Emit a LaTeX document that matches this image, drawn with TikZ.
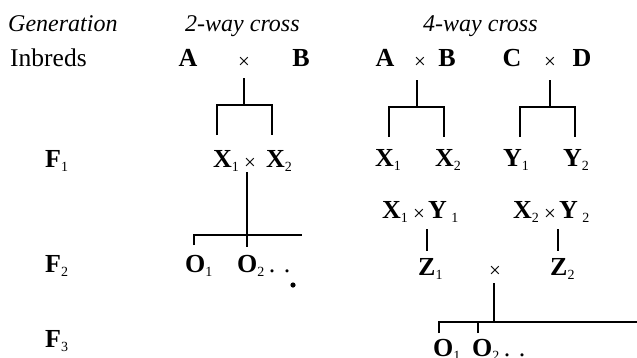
\documentclass[tikz,border=0pt]{standalone}
\usepackage{fontspec}
\setmainfont{Liberation Serif}
\newcommand{\mysub}[1]{\raisebox{-4pt}{\fontsize{14}{14}\selectfont\mdseries #1}}
\begin{document}
\begin{tikzpicture}[x=1pt,y=-1pt,
  lbl/.style={inner sep=0,font=\fontsize{25.5}{28}\selectfont},
  ital/.style={inner sep=0,anchor=base west,font=\fontsize{24}{28}\selectfont\itshape},
  bl/.style={inner sep=0,font=\fontsize{26}{28}\selectfont\bfseries},
  tm/.style={inner sep=0,anchor=base,font=\fontsize{21}{24}\selectfont},
  ln/.style={line width=1.2pt}]
\useasboundingbox (0,0) rectangle (637,357);
% headings
\node[ital] (gen) at (8,31) {Generation};
\node[ital] (two) at (185,31) {2-way cross};
\node[ital] (four) at (423,31) {4-way cross};
% generation labels
\node[lbl,anchor=base west] (inb) at (10,66) {Inbreds};
\node[bl,anchor=base west] (f1) at (45,167) {F\mysub{1}};
\node[bl,anchor=base west] (f2) at (45,272) {F\mysub{2}};
\node[bl,anchor=base west] (f3) at (45,347) {F\mysub{3}};
% 2-way cross
\node[bl,anchor=base] (a1) at (188,66) {A};
\node[tm] (t1) at (244,68) {×};
\node[bl,anchor=base] (b1) at (301,66) {B};
\node[bl,anchor=base west] (x1) at (213,167) {X\mysub{1}};
\node[tm] (t4) at (250,169) {×};
\node[bl,anchor=base west] (x2) at (266,167) {X\mysub{2}};
\node[bl,anchor=base west] (o1) at (185,272) {O\mysub{1}};
\node[bl,anchor=base west] (o2) at (237,272) {O\mysub{2}\,\mdseries. .};
\fill (293,285) circle (2.6);
% 4-way cross
\node[bl,anchor=base] (a2) at (385,66) {A};
\node[tm] (t2) at (420,68) {×};
\node[bl,anchor=base] (b2) at (447,66) {B};
\node[bl,anchor=base] (c2) at (512,66) {C};
\node[tm] (t3) at (550,68) {×};
\node[bl,anchor=base] (d2) at (582,66) {D};
\node[bl,anchor=base west] (x3) at (375,166) {X\mysub{1}};
\node[bl,anchor=base west] (x4) at (435,166) {X\mysub{2}};
\node[bl,anchor=base west] (y1) at (503,166) {Y\mysub{1}};
\node[bl,anchor=base west] (y2) at (563,166) {Y\mysub{2}};
\node[bl,anchor=base west] (xa) at (382,218) {X\mysub{1}};
\node[tm] (t6) at (419,220) {×};
\node[bl,anchor=base west] (ya) at (428,218) {Y\,\mysub{1}};
\node[bl,anchor=base west] (xb) at (513,218) {X\mysub{2}};
\node[tm] (t7) at (550,220) {×};
\node[bl,anchor=base west] (yb) at (559,218) {Y\,\mysub{2}};
\node[bl,anchor=base west] (z1) at (418,275) {Z\mysub{1}};
\node[tm] (t5) at (495,277) {×};
\node[bl,anchor=base west] (z2) at (550,275) {Z\mysub{2}};
\node[bl,anchor=base west] (o3) at (433,356) {O\mysub{1}};
\node[bl,anchor=base west] (o4) at (472,356) {O\mysub{2}\,\mdseries. .};
% connector coordinates
\coordinate (s1) at (244,78);  \coordinate (j1) at (244,105);
\coordinate (l1) at (217,135); \coordinate (r1) at (272,135);
\coordinate (s2) at (247,172); \coordinate (j2) at (247,247);
\coordinate (h2l) at (194,245); \coordinate (h2r) at (302,235);
\coordinate (s3) at (417,80);  \coordinate (j3) at (417,107);
\coordinate (l3) at (389,137); \coordinate (r3) at (444,137);
\coordinate (s4) at (550,80);  \coordinate (j4) at (550,107);
\coordinate (l4) at (520,137); \coordinate (r4) at (575,137);
\coordinate (v1a) at (427,229); \coordinate (v1b) at (427,251);
\coordinate (v2a) at (558,229); \coordinate (v2b) at (558,251);
\coordinate (s5) at (494,283); \coordinate (j5) at (494,322);
\coordinate (h5l) at (439,333); \coordinate (h5r) at (637,322);
\coordinate (h5m) at (478,333);
% connectors
\draw[ln] (s1) -- (j1);
\draw[ln] (l1) |- (j1) -| (r1);
\draw[ln] (s2) -- (j2);
\draw[ln] (h2l) |- (h2r);
\draw[ln] (s3) -- (j3);
\draw[ln] (l3) |- (j3) -| (r3);
\draw[ln] (s4) -- (j4);
\draw[ln] (l4) |- (j4) -| (r4);
\draw[ln] (v1a) -- (v1b);
\draw[ln] (v2a) -- (v2b);
\draw[ln] (s5) -- (j5);
\draw[ln] (h5l) |- (h5r);
\draw[ln] (h5m) -- (h5m |- j5);
\end{tikzpicture}
\end{document}
